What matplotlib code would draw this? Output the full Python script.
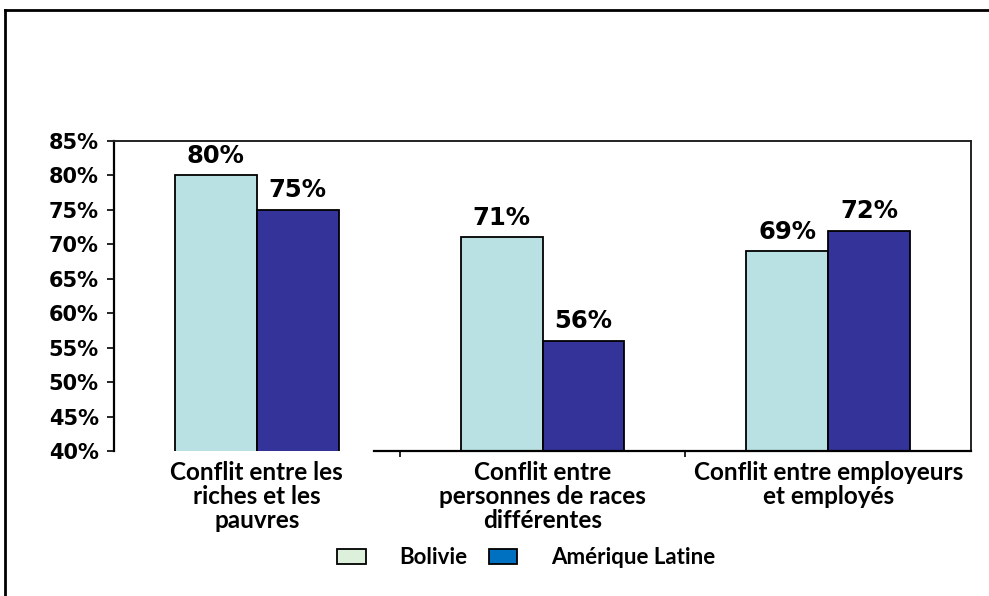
import matplotlib
matplotlib.use('Agg')
import matplotlib.pyplot as plt
import numpy as np
from matplotlib.lines import Line2D
from matplotlib.patches import Patch

categories = ['Conflit entre les\nriches et les\npauvres',
              'Conflit entre\npersonnes de races\ndifférentes',
              'Conflit entre employeurs\net employés']
bolivie = [80, 71, 69]
amerique_latine = [75, 56, 72]
yticks = [40, 45, 50, 55, 60, 65, 70, 75, 80, 85]

bar_col = ['#b9e0e3', '#333399']
legend_col = ['#ddf0dc', '#0070c0']
label_font = ['Lato', 'DejaVu Sans']

fig = plt.figure(figsize=(9.89, 5.96), dpi=100)
ax = fig.add_axes([0.1153, 0.2433, 0.8665, 0.5201])

x = np.arange(len(categories))
w = 0.287
b1 = ax.bar(x - w / 2, bolivie, w, bottom=0, color=bar_col[0], edgecolor='black', linewidth=1.3)
b2 = ax.bar(x + w / 2, amerique_latine, w, bottom=0, color=bar_col[1], edgecolor='black', linewidth=1.3)

for bars, vals in ((b1, bolivie), (b2, amerique_latine)):
    for rect, v in zip(bars, vals):
        ax.annotate(f'{v}%', (rect.get_x() + rect.get_width() / 2, v),
                    xytext=(0, 9), textcoords='offset points',
                    ha='center', va='baseline', fontsize=17.5, fontweight='bold')

ax.set_xlim(-0.5, 2.5)
ax.set_ylim(40, 85)
ax.set_yticks(yticks)
ax.set_yticklabels([f'{t}%' for t in yticks], fontsize=15, fontweight='bold')
ax.tick_params(axis='y', direction='out', length=5, width=1.2, pad=6)

ax.set_xticks(x)
ax.set_xticklabels(categories, fontsize=17.5, fontweight='bold', family=label_font,
                   linespacing=1.05, va='top')
ax.set_xticks([0.5, 1.5], minor=True)
ax.tick_params(axis='x', which='major', length=0, pad=7)
ax.tick_params(axis='x', which='minor', direction='out', length=4, width=1.2)

for side in ('left', 'bottom'):
    ax.spines[side].set_linewidth(1.6)
for side in ('top', 'right'):
    ax.spines[side].set_linewidth(1.4)
    ax.spines[side].set_color('#222222')
ax.spines['bottom'].set_bounds(0.41, 2.5)

handles = [Patch(facecolor=legend_col[0], edgecolor='black', linewidth=1.3),
           Patch(facecolor=legend_col[1], edgecolor='black', linewidth=1.3)]
fig.legend(handles, ['Bolivie', 'Amérique Latine'], loc='center',
           bbox_to_anchor=(0.532, 0.064), ncol=2, frameon=False,
           prop={'family': label_font, 'weight': 'bold', 'size': 16},
           handlelength=1.27, handleheight=0.64, handletextpad=1.5, columnspacing=1.0)

# outer chart frame: only the top and left edges fall inside the image
fx, fy = 4.5 / 989, 1 - 10 / 596
fig.add_artist(Line2D([fx, 1.0], [fy, fy], transform=fig.transFigure, color='black', linewidth=2))
fig.add_artist(Line2D([fx, fx], [0.0, fy], transform=fig.transFigure, color='black', linewidth=2))

fig.savefig('out.png', dpi=100)
